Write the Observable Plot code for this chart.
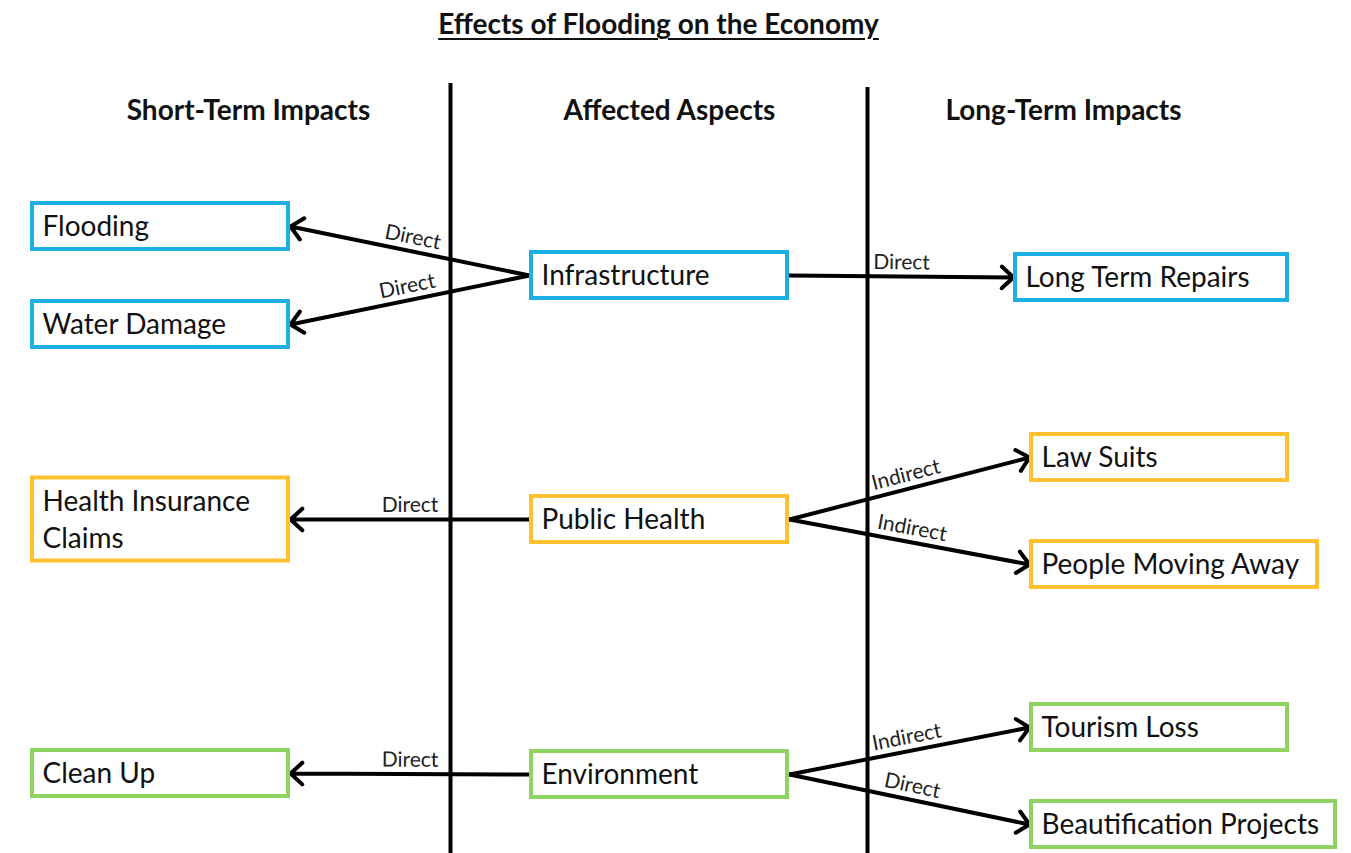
<!DOCTYPE html>
<html><head><meta charset="utf-8">
<script src="https://cdn.jsdelivr.net/npm/d3@7"></script>
<script src="https://cdn.jsdelivr.net/npm/@observablehq/plot@0.6"></script>
<style>
body{margin:0;background:#fff;font-family:Lato,"Open Sans",sans-serif;}
#title{position:absolute;left:0;top:6px;width:1317px;text-align:center;font-weight:bold;font-size:28px;line-height:34px;text-decoration:underline;text-underline-offset:4px;text-decoration-thickness:2px;color:#111}
#chart{position:absolute;left:0;top:50px}
</style></head><body>
<div id="title">Effects of Flooding on the Economy</div>
<div id="chart"></div>
<script>
// ---- data ----
const columns = ["Short-Term Impacts", "Affected Aspects", "Long-Term Impacts"];
const groups = ["Infrastructure", "Public Health", "Environment"];
const groupColors = ["#1DB0E6", "#FFC22E", "#8FD462"];
const nodeLabels = ["Flooding", "Water Damage", "Infrastructure", "Long Term Repairs",
  "Health Insurance\nClaims", "Public Health", "Law Suits", "People Moving Away",
  "Clean Up", "Environment", "Tourism Loss", "Beautification Projects"];
const nodeColumns = [0, 0, 1, 2, 0, 1, 2, 2, 0, 1, 2, 2];
const nodeGroups = [0, 0, 0, 0, 1, 1, 1, 1, 2, 2, 2, 2];
const nodeRows = [226, 324, 275, 277, 519, 519, 457, 564, 773, 774, 727, 824];
const linkSources = [2, 2, 2, 5, 5, 5, 9, 9, 9];
const linkTargets = [0, 1, 3, 4, 6, 7, 8, 10, 11];
const linkTypes = ["Direct", "Direct", "Direct", "Direct", "Indirect", "Indirect", "Direct", "Indirect", "Direct"];

// ---- layout ----
const W = 1351, H = 803, TOP = 50;
const colLeft = [30, 529, 1029];
const boxWidth = 260, boxHeight = 50, tallHeight = 87;
const leftOverride = {3: 1013};
const rightOverride = {3: 1289, 7: 1319, 11: 1337};
const headerX = [248, 669, 1063], headerY = 111;
const separatorX = [450, 867], separatorTop = [83, 87];

const boxes = nodeLabels.map((label, i) => {
  const left = leftOverride[i] ?? colLeft[nodeColumns[i]];
  const right = rightOverride[i] ?? (colLeft[nodeColumns[i]] + boxWidth);
  const h = label.includes("\n") ? tallHeight : boxHeight;
  return {label, left, right, cy: nodeRows[i], top: nodeRows[i] - h / 2, bottom: nodeRows[i] + h / 2,
    color: groupColors[nodeGroups[i]], column: nodeColumns[i]};
});

const links = linkSources.map((s, i) => {
  const a = boxes[s], b = boxes[linkTargets[i]];
  const leftward = b.column < a.column;
  const x1 = leftward ? a.left : a.right, y1 = a.cy;
  const x2 = leftward ? b.right : b.left, y2 = b.cy;
  // label sits at midpoint, offset above the shaft
  const lx1 = Math.min(x1, x2), ly1 = x1 < x2 ? y1 : y2;
  const lx2 = Math.max(x1, x2), ly2 = x1 < x2 ? y2 : y1;
  const ang = Math.atan2(ly2 - ly1, lx2 - lx1);
  const off = 14;
  return {x1, y1, x2, y2, type: linkTypes[i],
    lx: (x1 + x2) / 2 + off * Math.sin(ang), ly: (y1 + y2) / 2 - off * Math.cos(ang),
    rot: ang * 180 / Math.PI};
});

const chart = Plot.plot({
  width: W, height: H,
  margin: 0,
  x: {domain: [0, W], axis: null},
  y: {domain: [TOP, TOP + H], reverse: true, axis: null},
  style: {fontFamily: "Lato, 'Open Sans', sans-serif", background: "white"},
  marks: [
    Plot.ruleX(separatorX, {x: d => d, y1: (d, i) => separatorTop[i], y2: TOP + H, stroke: "black", strokeWidth: 4}),
    Plot.text(columns, {x: (d, i) => headerX[i], y: headerY, text: d => d, fontWeight: "bold", fontSize: 28, fill: "#111"}),
    Plot.arrow(links, {x1: "x1", y1: "y1", x2: "x2", y2: "y2", stroke: "black", strokeWidth: 4, headLength: 6, headAngle: 85}),
    Plot.text(links, {x: "lx", y: "ly", text: "type", rotate: "rot", fontSize: 21, fill: "#222"}),
    Plot.rect(boxes, {x1: d => d.left + 2, x2: d => d.right - 2, y1: d => d.top + 2, y2: d => d.bottom - 2,
      fill: "white", stroke: "color", strokeWidth: 4}),
    Plot.text(boxes, {x: d => d.left + 12, y: "cy", dy: -2, text: "label", textAnchor: "start", fontSize: 28, lineHeight: 1.32, fill: "#111"})
  ]
});
document.getElementById("chart").appendChild(chart);
</script>
</body></html>
